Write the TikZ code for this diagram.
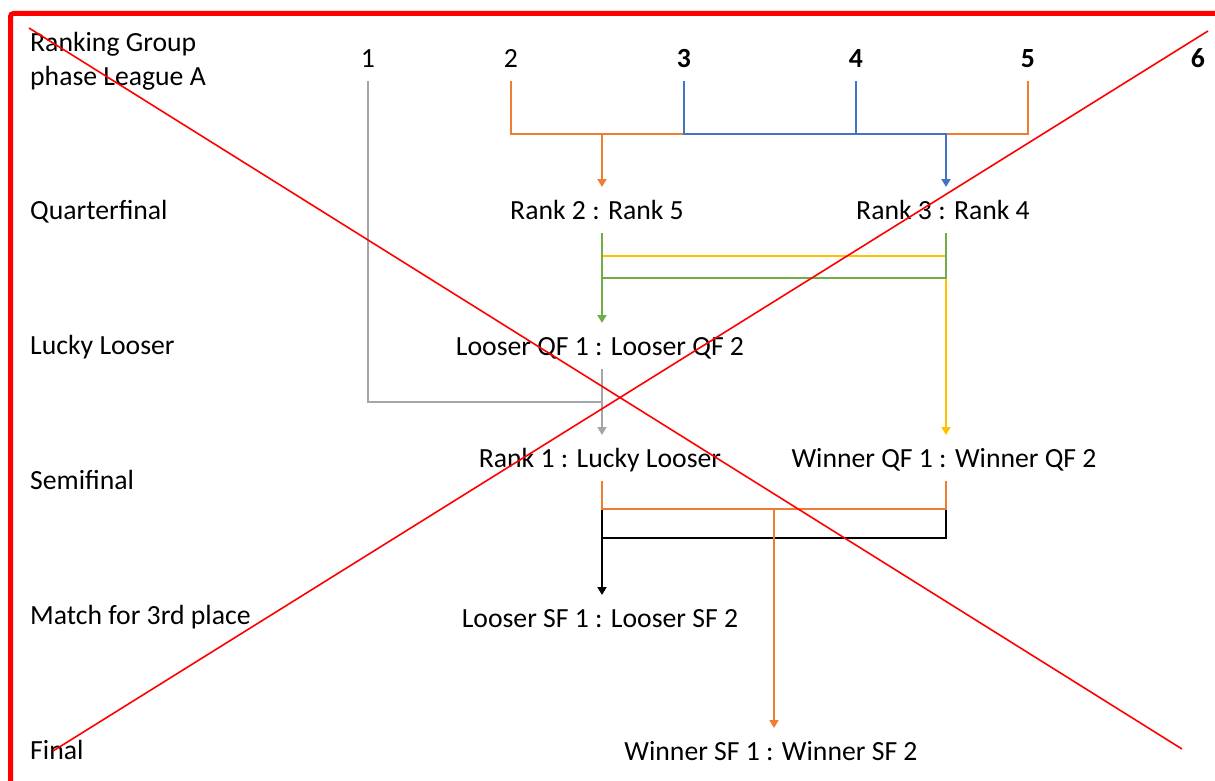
\documentclass[tikz,border=0pt]{standalone}
\usepackage{fontspec}
\setmainfont{Carlito}
\usetikzlibrary{arrows.meta}

\definecolor{rkorange}{HTML}{ED7D31}
\definecolor{rkblue}{HTML}{4472C4}
\definecolor{rkgreen}{HTML}{70AD47}
\definecolor{rkyellow}{HTML}{FFC000}
\definecolor{rkgrey}{HTML}{A5A5A5}

\begin{document}
\begin{tikzpicture}[
    x=1bp, y=-1bp,
    font=\fontsize{27.7bp}{34bp}\selectfont,
    lbl/.style={anchor=base west, inner sep=0pt, align=left},
    num/.style={anchor=base, inner sep=0pt, text height=17bp, text depth=0pt, outer ysep=13bp},
    match/.style={anchor=base, inner sep=0pt, text height=18bp, text depth=0pt, outer ysep=14bp},
    link/.style={line width=1.9bp},
    arrow/.style={link, -{Triangle[length=8bp, width=9bp]}},
    cross/.style={red, line width=1.6bp}
]
    \useasboundingbox (0,0) rectangle (1215,781);

    \node[lbl] (rg) at (30,86) {Ranking Group\\phase League A};
    \node[lbl] (lqf) at (30,219) {Quarterfinal};
    \node[lbl] (lll) at (30,354) {Lucky Looser};
    \node[lbl] (lsf) at (30,489) {Semifinal};
    \node[lbl] (l3rd) at (30,624) {Match for 3rd place};
    \node[lbl] (lfin) at (30,759) {Final};

    \node[num] (n1) at (368,68) {1};
    \node[num] (n2) at (511,68) {2};
    \node[num] (n3) at (684,68) {\bfseries 3};
    \node[num] (n4) at (856,68) {\bfseries 4};
    \node[num] (n5) at (1028,68) {\bfseries 5};
    \node[num] (n6) at (1198,68) {\bfseries 6};

    \node[match] (qf1) at (597,219) {Rank 2 : Rank 5};
    \node[match] (qf2) at (943,219) {Rank 3 : Rank 4};
    \node[match] (lucky) at (600,355) {Looser QF 1 : Looser QF 2};
    \node[match] (sf1) at (600,467) {Rank 1 : Lucky Looser};
    \node[match] (sf2) at (944,467) {Winner QF 1 : Winner QF 2};
    \node[match] (third) at (600,627) {Looser SF 1 : Looser SF 2};
    \node[match] (final) at (771,760) {Winner SF 1 : Winner SF 2};

    \coordinate (colA) at (602,0);
    \coordinate (colB) at (946,0);
    \coordinate (colF) at (774,0);
    \coordinate (barT) at (0,134);
    \coordinate (barY) at (0,256);
    \coordinate (barG) at (0,278);
    \coordinate (barL) at (0,402);
    \coordinate (barO) at (0,509);
    \coordinate (barK) at (0,538);

    \draw[link, rkorange] (n2.south) |- (n5.south |- barT) -- (n5.south);
    \draw[arrow, rkorange] (colA |- barT) -- (qf1.north -| colA);
    \draw[arrow, rkblue] (n3.south) |- (colB |- barT) -- (qf2.north -| colB);
    \draw[link, rkblue] (n4.south) -- (n4.south |- barT);

    \draw[arrow, rkyellow] (qf1.south -| colA) |- (colB |- barY) -- (sf2.north -| colB);
    \draw[arrow, rkgreen] (qf1.south -| colA) -- (lucky.north -| colA);
    \draw[link, rkgreen] (qf2.south -| colB) |- (colA |- barG);

    \draw[link, rkgrey] (n1.south) |- (colA |- barL);
    \draw[arrow, rkgrey] (lucky.south -| colA) -- (sf1.north -| colA);

    \draw[arrow, black] (colA |- barO) -- (third.north -| colA);
    \draw[link, black] (colB |- barO) |- (colA |- barK);
    \draw[link, rkorange] (sf1.south -| colA) |- (colB |- barO) -- (sf2.south -| colB);
    \draw[arrow, rkorange] (colF |- barO) -- (final.north -| colF);

    \draw[red, line width=5bp, rounded corners=3bp] (10.5,781) |- (1215,13.5);
    \draw[cross] (29,28) -- (1182,749);
    \draw[cross] (1208,31) -- (53,751);
\end{tikzpicture}
\end{document}
